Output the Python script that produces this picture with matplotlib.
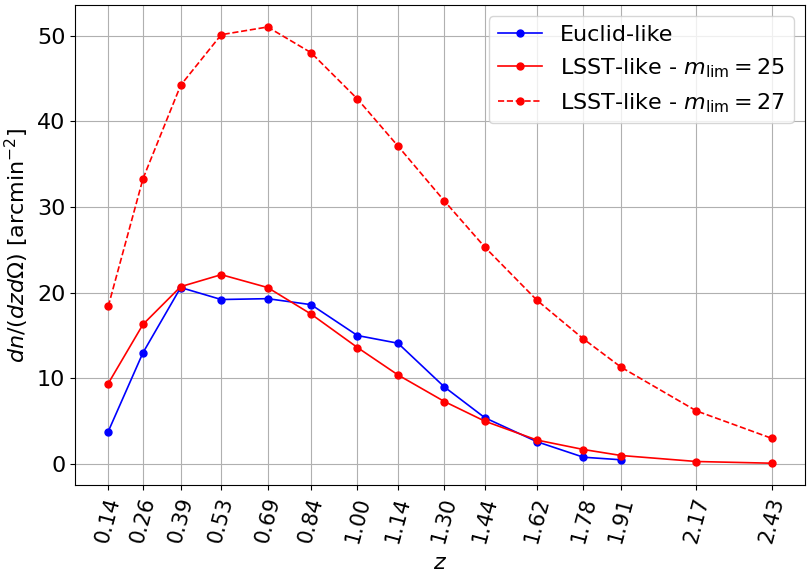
import matplotlib
matplotlib.use("Agg")
import matplotlib.pyplot as plt

# -----------------------
# Data
# -----------------------
z = [0.14, 0.26, 0.39, 0.53, 0.69, 0.84, 1.00, 1.14, 1.30, 1.44, 1.62, 1.78, 1.91, 2.17, 2.43]
z_euclid = z[:13]
euclid = [3.8, 13.0, 20.6, 19.2, 19.3, 18.6, 15.0, 14.1, 9.0, 5.4, 2.6, 0.8, 0.5]
lsst25 = [9.4, 16.3, 20.7, 22.1, 20.6, 17.5, 13.6, 10.4, 7.3, 5.0, 2.8, 1.7, 1.0, 0.3, 0.1]
lsst27 = [18.4, 33.3, 44.2, 50.1, 51.0, 48.0, 42.6, 37.1, 30.7, 25.3, 19.1, 14.6, 11.3, 6.2, 3.0]

# -----------------------
# Plot
# -----------------------
plt.rcParams["font.size"] = 16
fig, ax = plt.subplots(figsize=(8.07, 5.74), dpi=100)
fig.subplots_adjust(left=0.093, right=0.9975, top=0.991, bottom=0.155)

ax.plot(z_euclid, euclid, "o-", color="blue", markersize=5, linewidth=1.2,
        label="Euclid-like")
ax.plot(z, lsst25, "o-", color="red", markersize=5, linewidth=1.2,
        label=r"LSST-like - $m_{\rm lim} = 25$")
ax.plot(z, lsst27, "o--", color="red", markersize=5, linewidth=1.2,
        label=r"LSST-like - $m_{\rm lim} = 27$")

ax.set_xticks(z)
ax.set_xticklabels([f"{v:.2f}" for v in z], rotation=75, fontsize=15)
ax.set_xlabel(r"$z$", labelpad=6)
ax.set_ylabel(r"$dn/(dzd\Omega)$ [arcmin$^{-2}$]")
ax.grid(True)
ax.legend(loc="upper right")

plt.savefig("out.png")
